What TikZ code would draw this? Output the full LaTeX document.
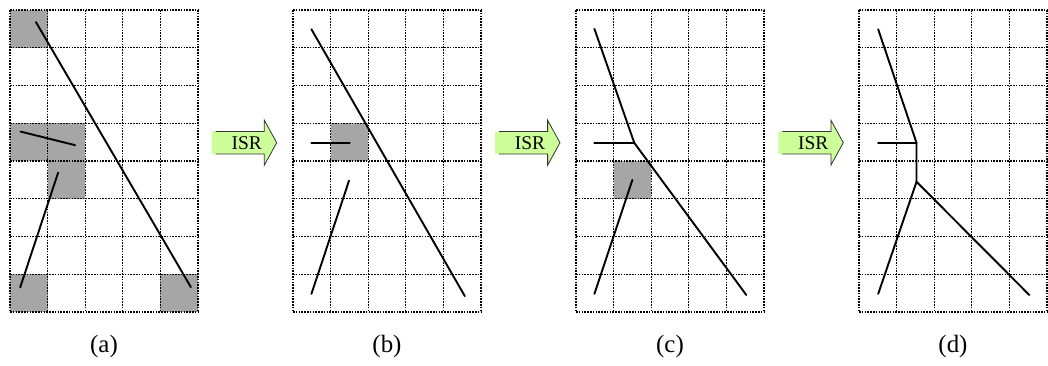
\documentclass[tikz,border=0pt]{standalone}
\usepackage{fontspec}
\setmainfont{Liberation Serif}
\begin{document}
\begin{tikzpicture}[x=1bp,y=-1bp,
  gridline/.style={line width=1.1bp,dash pattern=on 1.5bp off 1.3bp,black},
  seg/.style={line width=1.9bp,black,line cap=round,line join=miter},
  isredge/.style={draw=isredgecol,line width=0.8bp},
  isrtext/.style={font=\fontsize{19.5}{20}\selectfont,inner sep=0pt},
  sublabel/.style={font=\fontsize{25}{27}\selectfont,inner sep=0pt}]
\definecolor{cellgray}{HTML}{A6A6A6}
\definecolor{isrgreen}{HTML}{CCFF99}
\definecolor{isredgecol}{HTML}{333333}
\useasboundingbox (0,0) rectangle (1048,365);
\def\drawgrid{%
  \foreach \i in {0,...,5} \draw[gridline] (\i,0) -- (\i,8);
  \foreach \j in {0,...,8} \draw[gridline] (0,\j) -- (5,\j);}

% ---------- panel (a)
\begin{scope}[shift={(10,10)},x=37.6bp,y=-37.75bp]
  \foreach \c/\r in {0/0,0/3,1/3,1/4,0/7,4/7} \fill[cellgray] (\c,\r) rectangle ++(1,1);
  \drawgrid
  \coordinate (a1) at (0.69,0.32); \coordinate (a2) at (4.81,7.34);
  \coordinate (a3) at (0.28,3.22); \coordinate (a4) at (1.73,3.58);
  \coordinate (a5) at (1.28,4.31); \coordinate (a6) at (0.27,7.35);
  \draw[seg] (a1) -- (a2);
  \draw[seg] (a3) -- (a4);
  \draw[seg] (a5) -- (a6);
\end{scope}

% ---------- panel (b)
\begin{scope}[shift={(293,10)},x=37.6bp,y=-37.75bp]
  \fill[cellgray] (1,3) rectangle ++(1,1);
  \drawgrid
  \coordinate (b1) at (0.49,0.51); \coordinate (b2) at (4.57,7.58);
  \coordinate (b3) at (0.49,3.52); \coordinate (b4) at (1.51,3.52);
  \coordinate (b5) at (1.49,4.52); \coordinate (b6) at (0.49,7.52);
  \draw[seg] (b1) -- (b2);
  \draw[seg] (b3) -- (b4);
  \draw[seg] (b5) -- (b6);
\end{scope}

% ---------- panel (c)
\begin{scope}[shift={(576,10)},x=37.6bp,y=-37.75bp]
  \fill[cellgray] (1,4) rectangle ++(1,1);
  \drawgrid
  \coordinate (c1) at (0.49,0.5); \coordinate (cj) at (1.55,3.52);
  \coordinate (c2) at (4.53,7.55); \coordinate (c3) at (0.49,3.52);
  \coordinate (c5) at (1.5,4.5); \coordinate (c6) at (0.49,7.52);
  \draw[seg] (c1) -- (cj) -- (c2);
  \draw[seg] (c3) -- (cj);
  \draw[seg] (c5) -- (c6);
\end{scope}

% ---------- panel (d)
\begin{scope}[shift={(859,10)},x=37.6bp,y=-37.75bp]
  \drawgrid
  \coordinate (d1) at (0.51,0.51); \coordinate (dj) at (1.53,3.52);
  \coordinate (dk) at (1.53,4.55); \coordinate (d2) at (4.53,7.55);
  \coordinate (d3) at (0.51,3.52); \coordinate (d6) at (0.51,7.52);
  \draw[seg] (d1) -- (dj) -- (dk) -- (d2);
  \draw[seg] (d3) -- (dj);
  \draw[seg] (dk) -- (d6);
\end{scope}

% ---------- ISR arrows
\foreach \L/\n in {211.7/1,495/2,778.3/3}{
  \fill[isrgreen] (\L,131.4) -- (\L+52.6,131.4) -- (\L+52.6,120.2) -- (\L+65,142.7)
     -- (\L+52.6,165.2) -- (\L+52.6,154) -- (\L,154) -- cycle;
  \draw[isredge,line join=miter] (\L+4,131.4) -- (\L+52.6,131.4) -- (\L+52.6,120.2) -- (\L+65,142.7)
     -- (\L+52.6,165.2) -- (\L+52.6,154) -- (\L+4,154);
  \node[isrtext] (isr\n) at (\L+35,143) {ISR};
}

% ---------- sub-labels
\node[sublabel] (la) at (104,347) {(a)};
\node[sublabel] (lb) at (387,347) {(b)};
\node[sublabel] (lc) at (670,347) {(c)};
\node[sublabel] (ld) at (953,347) {(d)};
\end{tikzpicture}
\end{document}
